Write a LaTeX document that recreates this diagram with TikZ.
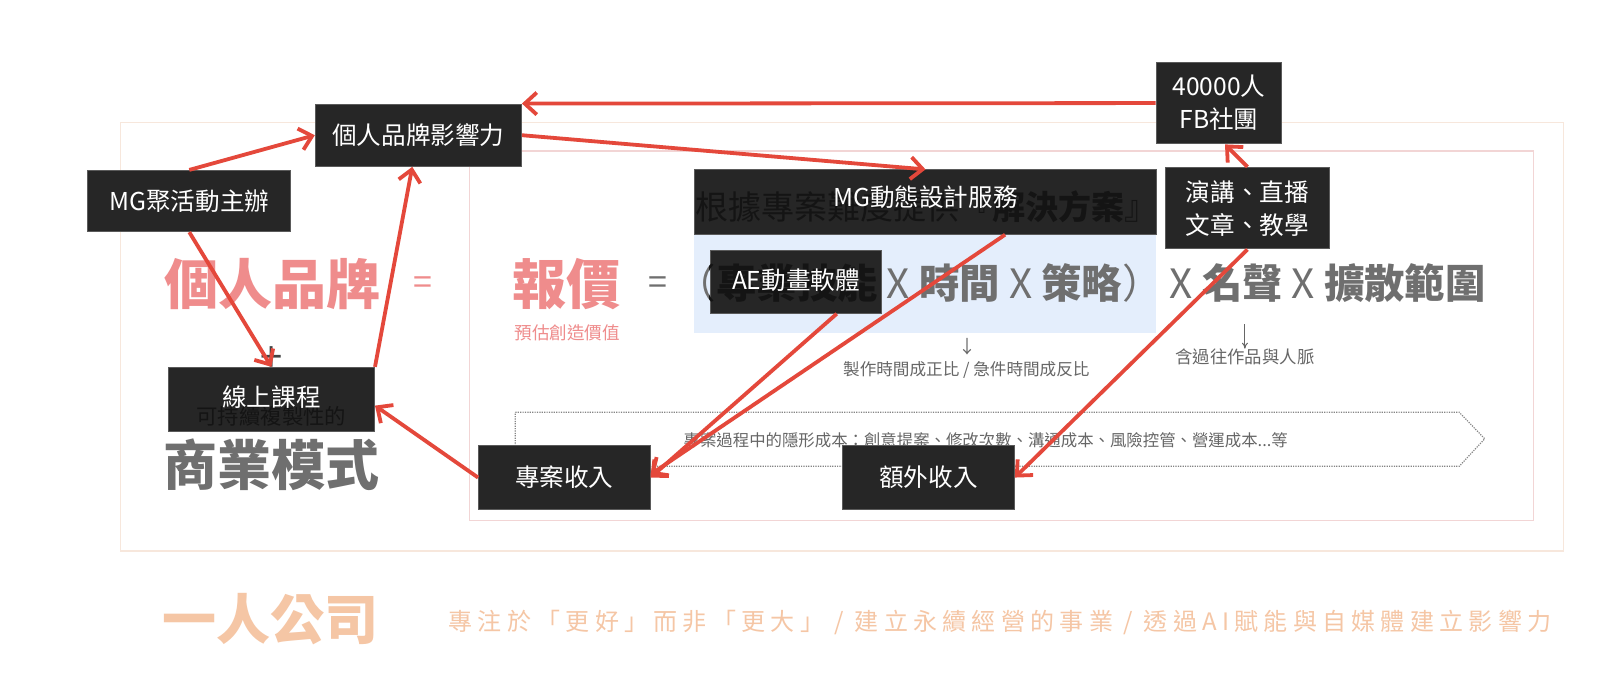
\documentclass[tikz,border=0pt]{standalone}
\usepackage{fontspec}
\setmainfont{Noto Sans CJK TC}
\usetikzlibrary{arrows.meta}
\newcommand\pxu{0.5102pt}
\definecolor{boxc}{HTML}{262626}
\definecolor{boxedge}{HTML}{5A5A5A}
\definecolor{arrred}{HTML}{E4483B}
\definecolor{pinkt}{HTML}{EF8C8C}
\definecolor{grayt}{HTML}{6F6F6F}
\definecolor{smallgray}{HTML}{666666}
\definecolor{peach}{HTML}{F5C6A5}
\definecolor{outerf}{HTML}{F7E7DC}
\definecolor{innerf}{HTML}{F2D5D5}
\definecolor{bluebg}{HTML}{E4EEFC}
\definecolor{hiddent}{HTML}{141414}
\newcommand\fmltext{（{\bfseries 專業技能} X {\bfseries 時間} X {\bfseries 策略}）}
\tikzset{
  box/.style={fill=boxc, draw=boxedge, line width=0.5pt, text=white, inner sep=0pt,
    align=center, font=\fontsize{12.3}{16.5}\selectfont},
  lbl/.style={text=white, inner sep=0pt, align=center, font=\fontsize{12.3}{16.5}\selectfont},
  arr/.style={draw=arrred, line width=1.9pt, -{Straight Barb[length=6pt,width=11pt]}},
  bigbold/.style={inner sep=0pt, font=\fontsize{27}{30}\selectfont\bfseries},
  fml/.style={inner sep=0pt, anchor=base west, font=\fontsize{20.2}{24}\selectfont},
  small/.style={inner sep=0pt, text=smallgray, font=\fontsize{8.3}{10}\selectfont},
}
\begin{document}
\begin{tikzpicture}[x=\pxu, y=-\pxu]
\useasboundingbox (0,0) rectangle (1568,674.3);
\fill[white] (0,0) rectangle (1568,674.3);
% frames
\draw[outerf, line width=0.6pt] (118,120) rectangle (1532,540);
\draw[innerf, line width=0.6pt] (460,148) rectangle (1503,510);
\fill[bluebg] (680,230) rectangle (1133,326);
% big texts
\node[bigbold, text=pinkt] (pb) at (267,278) {個人品牌};
\node[inner sep=0pt, text=pinkt, font=\fontsize{17}{20}\selectfont] (eq1) at (414,280) {=};
\node[bigbold, text=pinkt] (bj) at (555,278) {報價};
\node[inner sep=0pt, text=pinkt, font=\fontsize{8.8}{10}\selectfont] (est) at (556,326) {預估創造價值};
\node[inner sep=0pt, text=grayt, font=\fontsize{17}{20}\selectfont] (eq2) at (645,280) {=};
\node[fml, text=grayt] (fmla) at (662,293) {\fmltext};
\node[fml, text=grayt] (fame) at (1146,293) {X {\bfseries 名聲} X {\bfseries 擴散範圍}};
\node[bigbold, text=grayt] (biz) at (266,455) {商業模式};
\node[bigbold, text=peach] (one) at (265,607) {一人公司};
\node[inner sep=0pt, text=peach, font=\fontsize{12}{14}\selectfont\addfontfeatures{LetterSpace=22}] (sub) at (980,610)
  {專注於「更好」而非「更大」 / 建立永續經營的事業 / 透過AI賦能與自媒體建立影響力};
% small notes
\node[small, font=\fontsize{9}{10}\selectfont] (down1) at (948,340) {↓};
\node[small] (note1) at (947,363) {製作時間成正比 / 急件時間成反比};
\node[small, font=\fontsize{8.7}{10}\selectfont] (note2) at (1220,350) {含過往作品與人脈};
\coordinate (famept) at (1220,318);
\draw[smallgray, line width=0.5pt, -{To[length=3pt,width=3pt]}] (famept) -- (note2.north);
% dotted pentagon
\draw[smallgray!80, line width=0.6pt, dash pattern=on 0.6pt off 0.6pt]
  (505,404) -- (1430,404) -- (1455,430) -- (1430,457) -- (505,457) -- cycle;
\node[small, font=\fontsize{8.2}{10}\selectfont] (hidcost) at (966,431)
  {專案過程中的隱形成本：創意提案、修改次數、溝通成本、風險控管、營運成本...等};
\node[inner sep=0pt, text=grayt!60!black, font=\fontsize{20}{22}\selectfont] (plus) at (266,352) {+};
% boxes
\node[box, minimum width=202*\pxu, minimum height=61*\pxu] (brand) at (410,132.5) {個人品牌影響力};
\node[box, minimum width=199*\pxu, minimum height=60*\pxu] (mgju) at (185.5,197) {MG聚活動主辦};
\node[box, minimum width=202*\pxu, minimum height=63*\pxu] (course) at (266,391.5) {};
\node[box, minimum width=168*\pxu, minimum height=62*\pxu] (proj) at (553,468) {專案收入};
\node[box, minimum width=168*\pxu, minimum height=62*\pxu] (extra) at (910,468) {額外收入};
\node[box, minimum width=452*\pxu, minimum height=63*\pxu] (mgsvc) at (907,198) {};
\node[box, minimum width=168*\pxu, minimum height=62*\pxu] (ae) at (780,276) {};
\node[box, minimum width=123*\pxu, minimum height=80*\pxu] (fb) at (1194.5,101) {40000人\\FB社團};
\node[box, minimum width=161*\pxu, minimum height=80*\pxu] (talk) at (1222.5,204) {演講、直播\\文章、教學};
% text hidden under boxes
\begin{scope}
  \clip (ae.north west) rectangle (ae.south east);
  \node[fml, text=hiddent] (fmlh) at (662,293) {\fmltext};
\end{scope}
\begin{scope}
  \clip (mgsvc.north west) rectangle (mgsvc.south east);
  \node[inner sep=0pt, text=hiddent, font=\fontsize{16.5}{20}\selectfont] (solution) at (908,203)
    {根據專案難度提供『{\bfseries 解決方案}』};
\end{scope}
\begin{scope}
  \clip (course.north west) rectangle (course.south east);
  \node[inner sep=0pt, text=hiddent, font=\fontsize{20}{22}\selectfont] (plush) at (266,352) {+};
  \node[inner sep=0pt, text=hiddent, font=\fontsize{10.7}{12}\selectfont] (sustain) at (266,408) {可持續複製性的};
\end{scope}
% labels on split boxes
\node[lbl] (courseT) at (266,389) {線上課程};
\node[lbl] (mgsvcT) at (907,193) {MG動態設計服務};
\node[lbl] (aeT) at (780,275) {AE動畫軟體};
% arrows
\draw[arr] (fb.west) -- (brand.north east);
\draw[arr] (brand.east) -- (mgsvc.north);
\draw[arr] (mgju.north) -- (brand.west);
\draw[arr] (mgju.south) -- (course.north);
\draw[arr] (course.north east) -- ([xshift=-6*\pxu]brand.south);
\draw[arr] (proj.west) -- ([yshift=-6*\pxu]course.east);
\draw[arr] ([xshift=78*\pxu]mgsvc.south) -- ([yshift=3*\pxu]proj.east);
\draw[arr] ([xshift=40*\pxu]ae.south) -- (proj.east);
\draw[arr] (talk.south) -- (extra.east);
\draw[arr] (talk.north) -- ([xshift=6*\pxu]fb.south);
\end{tikzpicture}
\end{document}
